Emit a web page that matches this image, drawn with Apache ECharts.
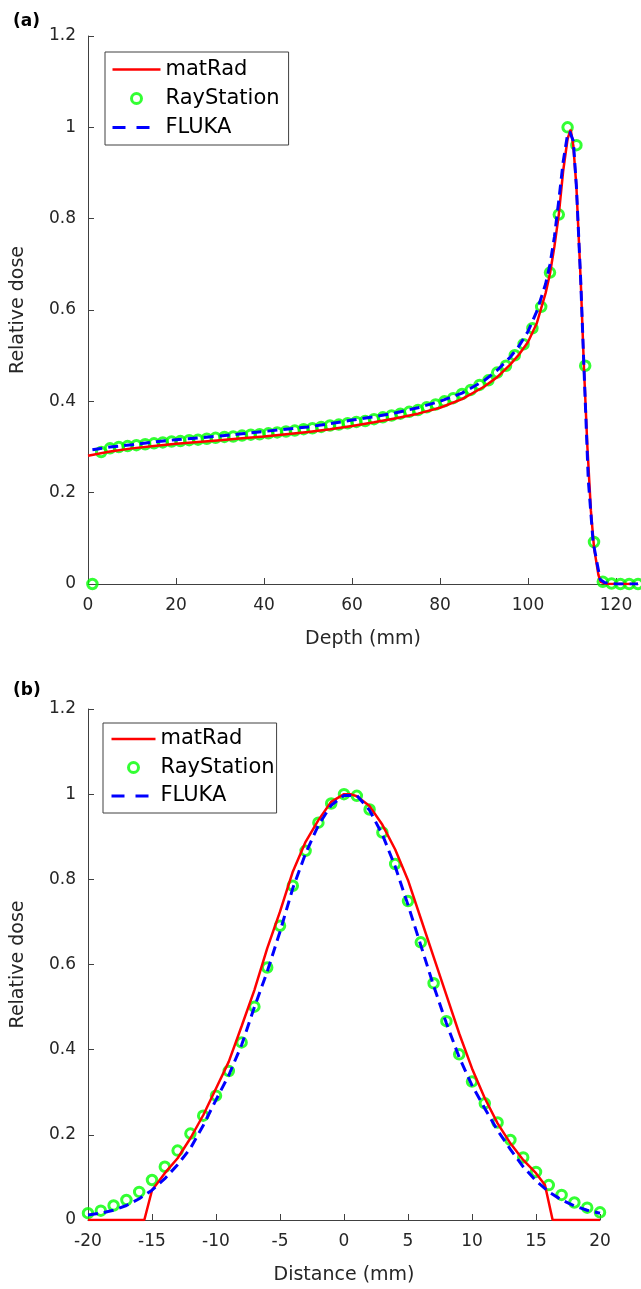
<!DOCTYPE html>
<html>
<head>
<meta charset="utf-8">
<script src="https://cdn.jsdelivr.net/npm/echarts@6/dist/echarts.min.js"></script>
<style>
html,body{margin:0;padding:0;background:#fff;}
#chart{width:641px;height:1289px;}
</style>
</head>
<body>
<div id="chart"></div>
<script>
// ---------- Panel (a): depth dose ----------
const depthTicks = [0, 20, 40, 60, 80, 100, 120];
const depthMatRadX = [0,5,10,15,20,25,30,35,40,45,50,55,60,65,70,75,80,85,90,93,96,98,100,102,104,105,106,107,108,109,109.7,110.3,111,112,112.7,113.5,114.3,115,116,116.5,118,120,125];
const depthMatRadY = [0.281,0.290,0.297,0.302,0.307,0.311,0.315,0.319,0.323,0.328,0.333,0.339,0.346,0.354,0.363,0.373,0.386,0.405,0.432,0.453,0.481,0.503,0.530,0.571,0.637,0.680,0.739,0.809,0.905,0.975,0.995,0.960,0.870,0.660,0.478,0.300,0.160,0.080,0.020,0.005,0,0,0];

const depthRayX = [1,3,5,7,9,11,13,15,17,19,21,23,25,27,29,31,33,35,37,39,41,43,45,47,49,51,53,55,57,59,61,63,65,67,69,71,73,75,77,79,81,83,85,87,89,91,93,95,97,99,101,103,105,107,109,111,113,115,117,119,121,123,125];
const depthRayY = [0,0.289,0.297,0.300,0.302,0.304,0.306,0.308,0.310,0.312,0.313,0.315,0.316,0.318,0.320,0.322,0.323,0.325,0.327,0.328,0.330,0.332,0.334,0.336,0.339,0.341,0.344,0.347,0.349,0.352,0.355,0.357,0.361,0.365,0.369,0.373,0.377,0.381,0.387,0.393,0.400,0.407,0.416,0.425,0.436,0.446,0.463,0.478,0.501,0.525,0.560,0.607,0.682,0.809,1.000,0.961,0.478,0.092,0.005,0.001,0,0,0];

const depthFlukaX = [1,5,10,15,20,25,30,35,40,45,50,55,60,65,70,75,80,85,90,93,96,98,100,102,104,105,106,107,108,109,109.5,110.3,111,112,112.7,113.7,114.8,116.4,117.5,120,125];
const depthFlukaY = [0.294,0.300,0.305,0.311,0.316,0.320,0.324,0.329,0.334,0.339,0.344,0.351,0.359,0.366,0.375,0.386,0.400,0.418,0.445,0.468,0.497,0.522,0.553,0.597,0.657,0.700,0.760,0.840,0.925,0.985,0.990,0.970,0.870,0.660,0.478,0.228,0.092,0.010,0.003,0,0];

// ---------- Panel (b): lateral profile ----------
const distTicks = [-20,-15,-10,-5,0,5,10,15,20];
const latMatRadX = [-20,-15.6,-15,-14,-13,-12,-11,-10,-9,-8,-7,-6,-5,-4,-3,-2,-1,0,0.5,1,2,3,4,5,6,7,8,9,10,11,12,13,14,15,15.7,16.3,20];
const latMatRadY = [0,0,0.070,0.110,0.145,0.192,0.246,0.309,0.372,0.455,0.540,0.638,0.724,0.818,0.888,0.939,0.982,1.000,1.000,0.995,0.972,0.928,0.870,0.798,0.708,0.618,0.528,0.438,0.356,0.286,0.227,0.180,0.141,0.110,0.082,0,0];

const latRayX = [-20,-19,-18,-17,-16,-15,-14,-13,-12,-11,-10,-9,-8,-7,-6,-5,-4,-3,-2,-1,0,1,2,3,4,5,6,7,8,9,10,11,12,13,14,15,16,17,18,19,20];
const latRayY = [0.016,0.022,0.034,0.047,0.066,0.094,0.125,0.163,0.203,0.245,0.292,0.350,0.417,0.501,0.593,0.691,0.785,0.867,0.933,0.978,1.000,0.996,0.964,0.910,0.836,0.749,0.652,0.556,0.467,0.389,0.325,0.274,0.229,0.188,0.147,0.113,0.082,0.059,0.041,0.029,0.018];

const latFlukaX = [-20,-19,-18,-17,-16,-15,-14,-13,-12,-11,-10,-9,-8,-7,-6,-5,-4,-3,-2,-1,0,1,2,3,4,5,6,7,8,9,10,11,12,13,14,15,16,17,18,19,20];
const latFlukaY = [0.012,0.016,0.023,0.034,0.050,0.070,0.097,0.130,0.168,0.222,0.282,0.340,0.411,0.500,0.583,0.677,0.779,0.861,0.927,0.974,0.997,0.997,0.962,0.905,0.830,0.740,0.645,0.550,0.462,0.382,0.316,0.262,0.210,0.166,0.125,0.092,0.066,0.047,0.033,0.023,0.016];

const doseTicks = [0,0.2,0.4,0.6,0.8,1,1.2];
const seriesNames = ['matRad', 'RayStation', 'FLUKA'];

function zip(xs, ys) { return xs.map((x, i) => [x, ys[i]]); }

const FONT = 'DejaVu Sans';
const AX = '#404040';
const TXT = '#262626';
const CIRCLE_STYLE = { color: 'rgba(0,0,0,0)', borderColor: '#00ff00', borderWidth: 3 };

function xAxisCfg(gridIndex, min, max, interval, name) {
  return {
    type: 'value', gridIndex, min, max, interval,
    name, nameLocation: 'middle', nameGap: 46,
    nameTextStyle: { fontFamily: FONT, fontSize: 19, color: TXT },
    axisLine: { show: true, onZero: false, lineStyle: { color: AX, width: 1 } },
    axisTick: { show: true, inside: true, length: 6, lineStyle: { color: AX } },
    axisLabel: { fontFamily: FONT, fontSize: 17, color: TXT, margin: 13, showMaxLabel: max % interval === 0 },
    splitLine: { show: false }
  };
}
function yAxisCfg(gridIndex) {
  return {
    type: 'value', gridIndex, min: doseTicks[0], max: doseTicks[doseTicks.length - 1], interval: 0.2,
    name: 'Relative dose', nameLocation: 'middle', nameGap: 60, nameRotate: 90,
    nameTextStyle: { fontFamily: FONT, fontSize: 19, color: TXT },
    axisLine: { show: true, onZero: false, lineStyle: { color: AX, width: 1 } },
    axisTick: { show: true, inside: true, length: 6, lineStyle: { color: AX } },
    axisLabel: { fontFamily: FONT, fontSize: 17, color: TXT, margin: 12 },
    splitLine: { show: false }
  };
}

function lineSeries(name, idx, data, color, dashed) {
  return {
    name, type: 'line', xAxisIndex: idx, yAxisIndex: idx, data,
    symbol: 'none', smooth: false, silent: true, animation: false,
    lineStyle: { color, width: dashed ? 3 : 2.5, type: dashed ? [10, 6] : 'solid' },
    itemStyle: { color }
  };
}
function scatterSeries(name, idx, data) {
  return {
    name, type: 'scatter', xAxisIndex: idx, yAxisIndex: idx, data,
    symbol: 'circle', symbolSize: 9.5, silent: true, animation: false,
    itemStyle: CIRCLE_STYLE
  };
}

function legendCfg(left, top, padding, itemWidth, lineHeight, itemGap) {
  return {
    show: true, orient: 'vertical', left, top, padding, itemWidth, itemHeight: 10, itemGap,
    backgroundColor: '#ffffff', borderColor: '#404040', borderWidth: 1, borderRadius: 0,
    selectedMode: false,
    textStyle: { fontFamily: FONT, fontSize: 21, color: '#000', lineHeight },
    data: [
      { name: seriesNames[0], itemStyle: { opacity: 0 }, lineStyle: { width: 2.5, color: '#ff0000', type: 'solid' } },
      { name: seriesNames[1], icon: 'circle', itemStyle: CIRCLE_STYLE },
      { name: seriesNames[2], itemStyle: { opacity: 0 }, lineStyle: { type: [13, 11], width: 3, color: '#0000ff' } }
    ]
  };
}

const chart = echarts.init(document.getElementById('chart'), null, { renderer: 'canvas' });
chart.setOption({
  backgroundColor: '#ffffff',
  animation: false,
  title: [
    { text: '(a)', left: 13, top: 13, padding: 0, textStyle: { fontFamily: FONT, fontSize: 17, fontWeight: 'bold', color: '#000' } },
    { text: '(b)', left: 13, top: 682, padding: 0, textStyle: { fontFamily: FONT, fontSize: 17, fontWeight: 'bold', color: '#000' } }
  ],
  grid: [
    { left: 88, top: 36, width: 550, height: 548 },
    { left: 88, top: 709, width: 512, height: 511 }
  ],
  xAxis: [
    xAxisCfg(0, 0, 125, 20, 'Depth (mm)'),
    xAxisCfg(1, distTicks[0], distTicks[distTicks.length - 1], 5, 'Distance (mm)')
  ],
  yAxis: [yAxisCfg(0), yAxisCfg(1)],
  legend: [
    legendCfg(105, 52, [6, 9, 6, 6], 48, 23, 6),
    legendCfg(103, 723, [5, 2, 6, 7], 44, 22, 6.5)
  ],
  series: [
    lineSeries('matRad', 0, zip(depthMatRadX, depthMatRadY), '#ff0000', false),
    scatterSeries('RayStation', 0, zip(depthRayX, depthRayY)),
    lineSeries('FLUKA', 0, zip(depthFlukaX, depthFlukaY), '#0000ff', true),
    lineSeries('matRad', 1, zip(latMatRadX, latMatRadY), '#ff0000', false),
    scatterSeries('RayStation', 1, zip(latRayX, latRayY)),
    lineSeries('FLUKA', 1, zip(latFlukaX, latFlukaY), '#0000ff', true)
  ]
});
</script>
</body>
</html>
